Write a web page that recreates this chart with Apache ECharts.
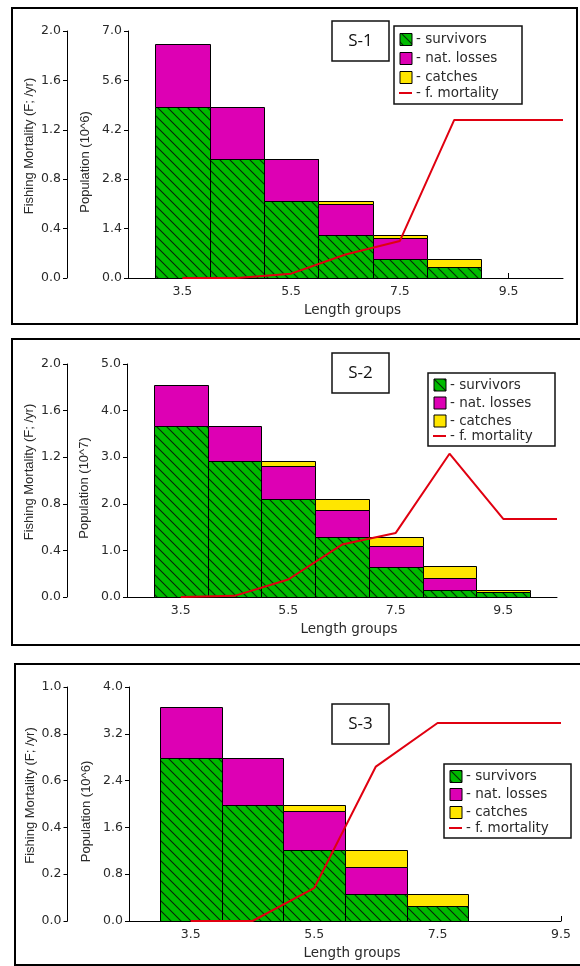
<!DOCTYPE html>
<html>
<head>
<meta charset="utf-8">
<script src="https://cdn.jsdelivr.net/npm/echarts@6/dist/echarts.min.js"></script>
<style>
  html, body { margin: 0; padding: 0; background: #fff; }
  #chart { width: 580px; height: 966px; }
</style>
</head>
<body>
<div id="chart"></div>
<script>
// ---- Scenario S-1 (population in 10^6) ----
const groupsS1 = [3.5, 4.5, 5.5, 6.5, 7.5, 8.5];
const survivorsS1 = [4.85, 3.38, 2.18, 1.21, 0.55, 0.32];
const natLossesS1 = [1.79, 1.47, 1.18, 0.88, 0.59, 0.00];
const catchesS1 = [0.00, 0.00, 0.02, 0.09, 0.07, 0.23];
const fLengthS1 = [3.5, 4.5, 5.5, 6.5, 7.5, 8.5, 9.5, 10.5];
const fMortalityS1 = [0.00, 0.00, 0.035, 0.19, 0.30, 1.28, 1.28, 1.28];

// ---- Scenario S-2 (population in 10^7) ----
const groupsS2 = [3.5, 4.5, 5.5, 6.5, 7.5, 8.5, 9.5];
const survivorsS2 = [3.68, 2.91, 2.10, 1.29, 0.65, 0.16, 0.11];
const natLossesS2 = [0.88, 0.77, 0.71, 0.58, 0.44, 0.24, 0.00];
const catchesS2 = [0.00, 0.00, 0.10, 0.23, 0.20, 0.26, 0.05];
const fLengthS2 = [3.5, 4.5, 5.5, 6.5, 7.5, 8.5, 9.5, 10.5];
const fMortalityS2 = [0.00, 0.01, 0.15, 0.45, 0.55, 1.23, 0.67, 0.67];

// ---- Scenario S-3 (population in 10^6) ----
const groupsS3 = [3.5, 4.5, 5.5, 6.5, 7.5];
const survivorsS3 = [2.78, 1.99, 1.21, 0.47, 0.26];
const natLossesS3 = [0.87, 0.79, 0.67, 0.46, 0.00];
const catchesS3 = [0.00, 0.00, 0.11, 0.28, 0.21];
const fLengthS3 = [3.5, 4.5, 5.5, 6.5, 7.5, 8.5, 9.5];
const fMortalityS3 = [0.00, 0.00, 0.14, 0.66, 0.846, 0.846, 0.846];

// Axis labels
const lengthTicks = [3.5, 5.5, 7.5, 9.5];
const scenarioNames = ['S-1', 'S-2', 'S-3'];
const populationNames = ['Population (10^6)', 'Population (10^7)', 'Population (10^6)'];
const fAxisName = 'Fishing Mortality (F; /yr)';
const lengthAxisName = 'Length groups';
const legendNames = ['- survivors', '- nat. losses', '- catches', '- f. mortality'];

const GREEN = '#00bb00';
const MAGENTA = '#dd00b4';
const YELLOW = '#ffe600';
const RED = '#e00010';
const INK = '#2a2a2a';

// Diagonal hatch tile used for the survivors fill
function makeHatch() {
  const c = document.createElement('canvas');
  c.width = 10; c.height = 10;
  const g = c.getContext('2d');
  g.fillStyle = GREEN;
  g.fillRect(0, 0, 10, 10);
  g.strokeStyle = '#082808';
  g.lineWidth = 1.1;
  g.beginPath();
  g.moveTo(-2, -2); g.lineTo(12, 12);
  g.moveTo(-2, 8); g.lineTo(2, 12);
  g.moveTo(8, -2); g.lineTo(12, 2);
  g.stroke();
  return c;
}
const hatch = { image: makeHatch(), repeat: 'repeat' };

// Histogram block: each group spans [x-0.5, x+0.5] between lo and hi
function histBlock(fill) {
  return function (params, api) {
    const x = api.value(0), lo = api.value(1), hi = api.value(2);
    if (hi - lo <= 0) return null;
    const a = api.coord([x - 0.5, lo]);
    const b = api.coord([x + 0.5, hi]);
    const x0 = Math.round(a[0]), x1 = Math.round(b[0]);
    const y0 = Math.round(a[1]), y1 = Math.round(b[1]);
    return {
      type: 'rect',
      shape: { x: x0 + 0.5, y: y1 + 0.5, width: x1 - x0, height: y0 - y1 },
      style: { fill: fill, stroke: '#000', lineWidth: 1 }
    };
  };
}

const scenarios = [
  { groups: groupsS1, surv: survivorsS1, nat: natLossesS1, catch: catchesS1, fx: fLengthS1, fy: fMortalityS1,
    grid: { left: 128, top: 31, width: 435, height: 247 }, xMax: 10.5, fOffset: 61,
    pop: { max: 7, interval: 1.4 }, f: { max: 2, interval: 0.4 } },
  { groups: groupsS2, surv: survivorsS2, nat: natLossesS2, catch: catchesS2, fx: fLengthS2, fy: fMortalityS2,
    grid: { left: 127, top: 364, width: 430, height: 233 }, xMax: 10.5, fOffset: 60,
    pop: { max: 5, interval: 1 }, f: { max: 2, interval: 0.4 } },
  { groups: groupsS3, surv: survivorsS3, nat: natLossesS3, catch: catchesS3, fx: fLengthS3, fy: fMortalityS3,
    grid: { left: 129, top: 687, width: 432, height: 234 }, xMax: 9.5, fOffset: 61.5,
    pop: { max: 4, interval: 0.8 }, f: { max: 1, interval: 0.2 } }
];

const tickFont = { fontFamily: 'DejaVu Sans', fontSize: 12.5, color: INK };
const grids = [], xAxes = [], yAxes = [], series = [];

scenarios.forEach((s, i) => {
  grids.push(Object.assign({ containLabel: false }, s.grid));
  xAxes.push({
    gridIndex: i, type: 'value', min: 2.5, max: s.xMax,
    axisLine: { show: true, lineStyle: { color: '#000', width: 1 } },
    axisTick: { show: true, inside: true, length: 5, customValues: lengthTicks, lineStyle: { color: '#000' } },
    axisLabel: Object.assign({ customValues: lengthTicks, margin: 7, formatter: v => v.toFixed(1) }, tickFont),
    splitLine: { show: false },
    name: lengthAxisName, nameLocation: 'middle', nameGap: 25,
    nameTextStyle: { fontFamily: 'DejaVu Sans', fontSize: 13.5, color: INK, padding: [0, 0, 0, 14] }
  });
  // population axis (yAxis index 2i)
  yAxes.push({
    gridIndex: i, type: 'value', position: 'left', min: 0, max: s.pop.max, interval: s.pop.interval,
    axisLine: { show: true, lineStyle: { color: '#000', width: 1 } },
    axisTick: { show: true, length: 4, lineStyle: { color: '#000' } },
    axisLabel: Object.assign({ margin: 6, formatter: v => v.toFixed(1) }, tickFont),
    splitLine: { show: false },
    name: populationNames[i], nameLocation: 'middle', nameGap: 36, nameRotate: 90, nameMoveOverlap: false,
    nameTextStyle: { fontFamily: 'Liberation Sans', fontSize: 13, color: INK, padding: [0, 15, 0, 0] }
  });
  // fishing mortality axis (yAxis index 2i+1)
  yAxes.push({
    gridIndex: i, type: 'value', position: 'left', offset: s.fOffset, min: 0, max: s.f.max, interval: s.f.interval,
    axisLine: { show: true, onZero: false, lineStyle: { color: '#000', width: 1 } },
    axisTick: { show: true, length: 4, lineStyle: { color: '#000' } },
    axisLabel: Object.assign({ margin: 6, formatter: v => v.toFixed(1) }, tickFont),
    splitLine: { show: false },
    name: fAxisName, nameLocation: 'middle', nameGap: 31, nameRotate: 90, nameMoveOverlap: false,
    nameTextStyle: { fontFamily: 'Liberation Sans', fontSize: 13, color: INK, padding: [0, 0, 0, 17] }
  });

  const survData = s.groups.map((g, k) => [g, 0, s.surv[k]]);
  const natData = s.groups.map((g, k) => [g, s.surv[k], s.surv[k] + s.nat[k]]);
  const catchData = s.groups.map((g, k) => [g, s.surv[k] + s.nat[k], s.surv[k] + s.nat[k] + s.catch[k]]);
  const common = { type: 'custom', xAxisIndex: i, yAxisIndex: 2 * i, encode: { x: 0, y: [1, 2] }, silent: true, z: 2 };
  series.push(Object.assign({ name: 'survivors', data: survData, renderItem: histBlock(hatch) }, common));
  series.push(Object.assign({ name: 'nat. losses', data: natData, renderItem: histBlock(MAGENTA) }, common));
  series.push(Object.assign({ name: 'catches', data: catchData, renderItem: histBlock(YELLOW) }, common));
  series.push({
    name: 'f. mortality', type: 'line', xAxisIndex: i, yAxisIndex: 2 * i + 1, z: 5,
    data: s.fx.map((x, k) => [x, s.fy[k]]),
    symbol: 'none', silent: true, animation: false,
    lineStyle: { color: RED, width: 2 }
  });
});

// Panel frames, scenario tags and legends
function legend(x, y, w, h, rows) {
  const kids = [{ type: 'rect', shape: { x: 0, y: 0, width: w, height: h },
                  style: { fill: '#fff', stroke: '#111', lineWidth: 1.5 } }];
  const fills = [hatch, MAGENTA, YELLOW];
  rows.forEach((ry, k) => {
    if (k < 3) {
      kids.push({ type: 'rect', shape: { x: 6, y: ry - 6, width: 12, height: 12 },
                  style: { fill: fills[k], stroke: '#000', lineWidth: 1 } });
    } else {
      kids.push({ type: 'line', shape: { x1: 5, y1: ry, x2: 18, y2: ry },
                  style: { stroke: RED, lineWidth: 2 } });
    }
    kids.push({ type: 'text', x: 22, y: ry,
                style: { text: legendNames[k], fontFamily: 'DejaVu Sans', fontSize: 13.5,
                         fill: INK, verticalAlign: 'middle', align: 'left' } });
  });
  return { type: 'group', x: x, y: y, z: 20, children: kids };
}
function tag(x, y, label) {
  return { type: 'group', x: x, y: y, z: 20, children: [
    { type: 'rect', shape: { x: 0, y: 0, width: 57, height: 40 }, style: { fill: '#fff', stroke: '#111', lineWidth: 1.5 } },
    { type: 'text', x: 28.5, y: 20, style: { text: label, fontFamily: 'Open Sans', fontSize: 17, fill: '#111',
      align: 'center', verticalAlign: 'middle' } }
  ] };
}
const frame = (x, y, w, h) => ({ type: 'rect', z: 0, shape: { x: x, y: y, width: w, height: h },
  style: { fill: 'none', stroke: '#000', lineWidth: 2 } });

const graphics = [
  frame(12, 8, 565, 316),
  frame(12, 339, 570, 306),
  frame(15, 664, 570, 301),
  tag(332, 21, scenarioNames[0]),
  tag(332, 353, scenarioNames[1]),
  tag(332, 704, scenarioNames[2]),
  legend(394, 26, 128, 78, [13.5, 32.5, 51.5, 67]),
  legend(428, 373, 127, 73, [12, 30, 48, 63]),
  legend(444, 764, 127, 74, [12.5, 30.5, 48.5, 64])
];

const chart = echarts.init(document.getElementById('chart'), null, { renderer: 'canvas' });
chart.setOption({
  animation: false,
  backgroundColor: '#fff',
  grid: grids,
  xAxis: xAxes,
  yAxis: yAxes,
  series: series,
  graphic: graphics
});
</script>
</body>
</html>
